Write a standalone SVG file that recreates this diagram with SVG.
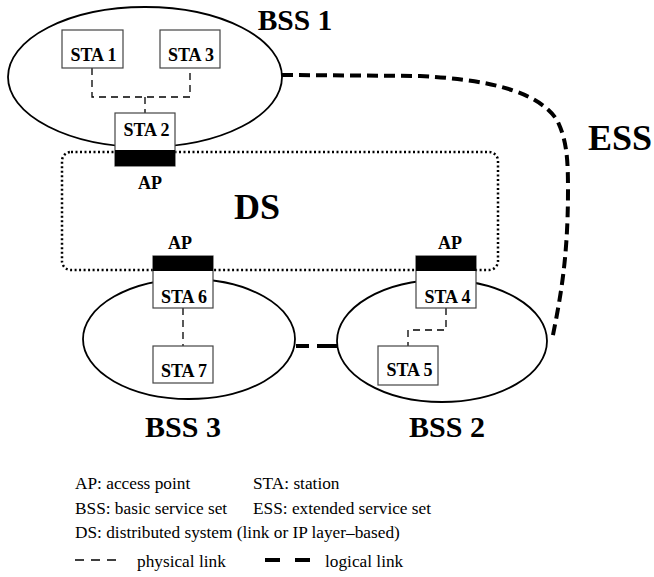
<svg xmlns="http://www.w3.org/2000/svg" width="654" height="577" viewBox="0 0 654 577">
<style>
.ell{fill:none;stroke:#000;stroke-width:1.8}
.box{fill:#fff;stroke:#444;stroke-width:1.2}
.bar{fill:#000}
.sta{font-weight:bold;font-size:18px;text-anchor:middle;fill:#000}
.ap{font-weight:bold;font-size:18px;text-anchor:middle;fill:#000}
.big{font-weight:bold;text-anchor:middle;fill:#000}
.leg{font-size:17.3px;fill:#000}
.phys{fill:none;stroke:#000;stroke-width:1.3;stroke-dasharray:7 5}
.logi{fill:none;stroke:#000;stroke-width:4;stroke-dasharray:11 6}
.ds{fill:none;stroke:#000;stroke-width:2.5;stroke-dasharray:2 2.5}
</style>
<rect width="654" height="577" fill="#fff"/>
<g font-family="'Liberation Serif', 'Times New Roman', Times, serif">
<g id="ds">
<rect class="ds" x="62" y="152" width="436" height="118" rx="9"/>
<text class="big" x="257" y="219" font-size="36">DS</text>
</g>

<g id="bss1">
<ellipse class="ell" cx="145" cy="77" rx="137" ry="70"/>
<text class="big" x="295" y="30" font-size="29.5">BSS 1</text>
</g>
<g id="bss3">
<ellipse class="ell" cx="189" cy="339" rx="106" ry="60"/>
<text class="big" x="183" y="437" font-size="30">BSS 3</text>
</g>
<g id="bss2">
<ellipse class="ell" cx="442" cy="341" rx="105" ry="61"/>
<text class="big" x="447" y="437" font-size="30">BSS 2</text>
</g>
<g id="ess">
<text class="big" x="620" y="150" font-size="36">ESS</text>
</g>

<g id="connectors">
<path class="phys" d="M92 68 V97 H190 V68"/>
<path class="phys" d="M145 97 V113"/>
<path class="phys" d="M183 308 V346"/>
<path class="phys" d="M446 308 V330 H408 V346"/>
<path class="logi" d="M282 75 L420 76 C500 80 540 95 557 120 C567 140 568 160 568 190 C568 260 560 300 552 340"/>
<path class="logi" d="M296 346 H337" style="stroke-dasharray:13 8 20"/>
</g>

<g id="sta1">
<rect class="box" x="62" y="30" width="61" height="38"/>
<text class="sta" x="93.5" y="61">STA 1</text>
</g>
<g id="sta3">
<rect class="box" x="160" y="30" width="60" height="38"/>
<text class="sta" x="191" y="61">STA 3</text>
</g>
<g id="sta2">
<rect class="box" x="115" y="113" width="60" height="53"/>
<rect class="bar" x="115" y="150" width="60" height="16"/>
<text class="sta" x="146.5" y="136">STA 2</text>
<text class="ap" x="150" y="189">AP</text>
</g>
<g id="sta6">
<rect class="box" x="153" y="256" width="60" height="52"/>
<rect class="bar" x="153" y="256" width="60" height="15"/>
<text class="sta" x="184" y="303">STA 6</text>
<text class="ap" x="180" y="249">AP</text>
</g>
<g id="sta7">
<rect class="box" x="153" y="346" width="60" height="37"/>
<text class="sta" x="184" y="377">STA 7</text>
</g>
<g id="sta4">
<rect class="box" x="416" y="256" width="60" height="52"/>
<rect class="bar" x="416" y="256" width="60" height="15"/>
<text class="sta" x="447.5" y="303">STA 4</text>
<text class="ap" x="450" y="249">AP</text>
</g>
<g id="sta5">
<rect class="box" x="378" y="346" width="60" height="39"/>
<text class="sta" x="409.5" y="376">STA 5</text>
</g>

<g id="legend">
<text class="leg" x="75" y="489">AP: access point</text>
<text class="leg" x="253" y="489">STA: station</text>
<text class="leg" x="75" y="514">BSS: basic service set</text>
<text class="leg" x="253" y="514">ESS: extended service set</text>
<text class="leg" x="75" y="538">DS: distributed system (link or IP layer–based)</text>
<path d="M75 560 H123" fill="none" stroke="#000" stroke-width="1.5" stroke-dasharray="9 7"/>
<text class="leg" x="137" y="567">physical link</text>
<path d="M265 560 H310" fill="none" stroke="#000" stroke-width="4" stroke-dasharray="15 15"/>
<text class="leg" x="325" y="567">logical link</text>
</g>
</g>
</svg>
